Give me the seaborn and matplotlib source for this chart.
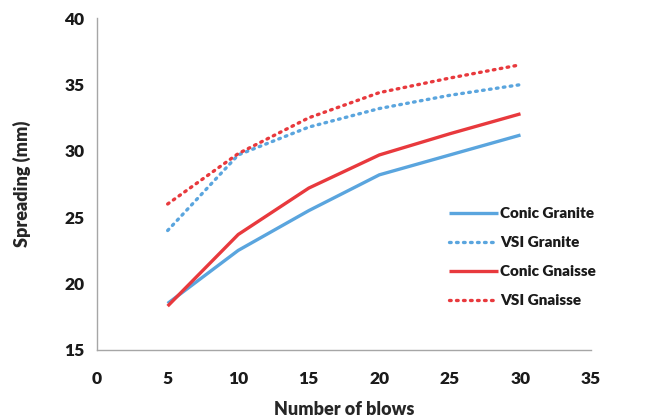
import pandas as pd
import seaborn as sns
import matplotlib.pyplot as plt

# values
blows = [5, 10, 15, 20, 25, 30]
conic_granite = [18.5, 22.5, 25.5, 28.2, 29.7, 31.2]
vsi_granite = [24.0, 29.7, 31.8, 33.2, 34.2, 35.0]
conic_gnaisse = [18.3, 23.7, 27.2, 29.7, 31.3, 32.8]
vsi_gnaisse = [26.0, 29.8, 32.5, 34.4, 35.5, 36.5]

series_names = ['Conic Granite', 'VSI Granite', 'Conic Gnaisse', 'VSI Gnaisse']
series_values = [conic_granite, vsi_granite, conic_gnaisse, vsi_gnaisse]

rows = []
for name, vals in zip(series_names, series_values):
    for b, v in zip(blows, vals):
        rows.append({'blows': b, 'spreading': v, 'series': name})
df = pd.DataFrame(rows)

sns.set_style('white')
plt.rcParams['font.family'] = ['Lato', 'DejaVu Sans']

blue = '#5AA5DE'
red = '#E8393D'
palette = {'Conic Granite': blue, 'VSI Granite': blue,
           'Conic Gnaisse': red, 'VSI Gnaisse': red}
dashes = {'Conic Granite': '', 'VSI Granite': (0.5, 1.6),
          'Conic Gnaisse': '', 'VSI Gnaisse': (0.5, 1.6)}

fig = plt.figure(figsize=(6.56, 4.17), dpi=100)
ax = fig.add_axes([0.148, 0.161, 0.753, 0.795])

sns.lineplot(data=df, x='blows', y='spreading', hue='series', style='series',
             hue_order=series_names, style_order=series_names,
             palette=palette, dashes=dashes, linewidth=2.4, ax=ax,
             dash_capstyle='round', solid_capstyle='butt')

ax.set_xlim(0, 35)
ax.set_ylim(15, 40)
ax.set_xticks(range(0, 36, 5))
ax.set_yticks(range(15, 41, 5))

for side in ['top', 'right']:
    ax.spines[side].set_visible(False)
for side in ['left', 'bottom']:
    ax.spines[side].set_color('#A6A6A6')
    ax.spines[side].set_linewidth(1.0)

ax.tick_params(axis='both', which='both', direction='out', length=5,
               width=1.0, color='#A6A6A6', labelsize=12.5, pad=4)
ax.tick_params(axis='x', pad=10)
for lab in ax.get_xticklabels() + ax.get_yticklabels():
    lab.set_fontweight('heavy')
    lab.set_color('#1A1A1A')

ax.set_xlabel('Number of blows', fontsize=13, fontweight='heavy', labelpad=10)
ax.set_ylabel('Spreading (mm)', fontsize=13, fontweight='heavy', labelpad=24)

leg = ax.legend(loc='center left', bbox_to_anchor=(0.685, 0.28), frameon=False,
                fontsize=11, handlelength=3.2, handletextpad=0.15,
                labelspacing=1.05)
for t in leg.get_texts():
    t.set_fontweight('heavy')
    t.set_color('#1A1A1A')

fig.savefig('out.png', dpi=100)
